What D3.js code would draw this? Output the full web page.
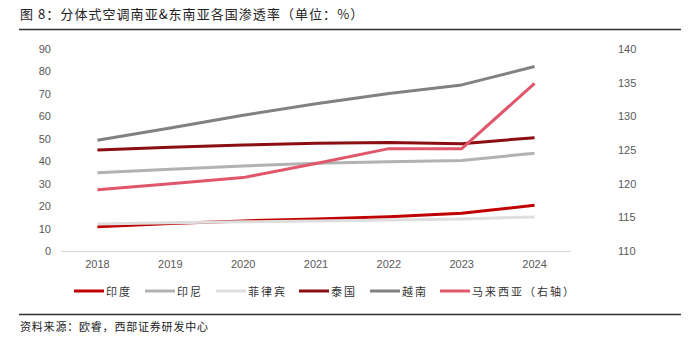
<!DOCTYPE html>
<html>
<head>
<meta charset="utf-8">
<script src="https://cdn.jsdelivr.net/npm/d3@7/dist/d3.min.js"></script>
<style>
  body { margin: 0; background: #fff; }
  svg { display: block; font-family: "Liberation Sans", Arial, sans-serif; }
  .cjk { font-family: "Noto Sans CJK SC", sans-serif; }
</style>
</head>
<body>
<svg id="chart" width="700" height="337"></svg>
<script>
// Data
var years = ['2018', '2019', '2020', '2021', '2022', '2023', '2024'];
var india = [10.8, 12.3, 13.4, 14.3, 15.3, 16.8, 20.4];
var indonesia = [34.9, 36.4, 37.9, 39.1, 39.8, 40.3, 43.6];
var philippines = [12.0, 12.6, 13.0, 13.4, 13.8, 14.3, 15.2];
var thailand = [45.0, 46.2, 47.2, 48.0, 48.3, 47.8, 50.5];
var vietnam = [49.3, 54.8, 60.5, 65.6, 70.2, 74.0, 82.2];
var malaysia = [119.1, 120.0, 120.9, 123.0, 125.2, 125.2, 134.9];   // right axis
var leftTicks = [0, 10, 20, 30, 40, 50, 60, 70, 80, 90];
var rightTicks = [110, 115, 120, 125, 130, 135, 140];

var series = [
    { name: '印度', values: india, color: '#c00000', right: false },
    { name: '印尼', values: indonesia, color: '#b2b2b2', right: false },
    { name: '菲律宾', values: philippines, color: '#dedede', right: false },
    { name: '泰国', values: thailand, color: '#8b0f12', right: false },
    { name: '越南', values: vietnam, color: '#818181', right: false },
    { name: '马来西亚（右轴）', values: malaysia, color: '#e0566a', right: true }
];

var svg = d3.select('#chart');
var plot = { left: 61, right: 571, top: 49, bottom: 251 };

var x = d3.scaleBand().domain(years).range([plot.left, plot.right]);
var yL = d3.scaleLinear().domain([0, 90]).range([plot.bottom, plot.top]);
var yR = d3.scaleLinear().domain([110, 140]).range([plot.bottom, plot.top]);

// Title
svg.append('text')
    .attr('class', 'cjk')
    .attr('x', 20).attr('y', 19)
    .attr('font-size', 13).attr('fill', '#222')
    .attr('letter-spacing', 1.05)
    .text('图 8：分体式空调南亚&东南亚各国渗透率（单位：%）');
svg.append('line')
    .attr('x1', 19).attr('x2', 681).attr('y1', 29.5).attr('y2', 29.5)
    .attr('stroke', '#333').attr('stroke-width', 1.5);

// Baseline
svg.append('line')
    .attr('x1', plot.left).attr('x2', plot.right)
    .attr('y1', plot.bottom + 0.5).attr('y2', plot.bottom + 0.5)
    .attr('stroke', '#d9d9d9').attr('stroke-width', 1);

// Left axis
var leftAxis = d3.axisLeft(yL).tickValues(leftTicks).tickSize(0).tickPadding(0);
var gl = svg.append('g').attr('transform', 'translate(51,0)').call(leftAxis);
gl.select('.domain').remove();
gl.selectAll('text').attr('font-size', 11).attr('fill', '#595959')
    .attr('font-family', '"Liberation Sans", Arial, sans-serif');

// Right axis
var rightAxis = d3.axisRight(yR).tickValues(rightTicks).tickSize(0).tickPadding(0);
var gr = svg.append('g').attr('transform', 'translate(618,0)').call(rightAxis);
gr.select('.domain').remove();
gr.selectAll('text').attr('font-size', 11).attr('fill', '#595959')
    .attr('font-family', '"Liberation Sans", Arial, sans-serif');

// Bottom axis
var bottomAxis = d3.axisBottom(x).tickSize(0).tickPadding(0);
var gb = svg.append('g').attr('transform', 'translate(0,' + (plot.bottom + 9) + ')').call(bottomAxis);
gb.select('.domain').remove();
gb.selectAll('text').attr('font-size', 11).attr('fill', '#595959')
    .attr('font-family', '"Liberation Sans", Arial, sans-serif');

// Lines
series.forEach(function (s) {
    var yS = s.right ? yR : yL;
    var line = d3.line()
        .x(function (d, i) { return x(years[i]) + x.bandwidth() / 2; })
        .y(function (d) { return yS(d); });
    svg.append('path')
        .datum(s.values)
        .attr('d', line)
        .attr('fill', 'none')
        .attr('stroke', s.color)
        .attr('stroke-width', 3)
        .attr('stroke-linejoin', 'round');
});

// Legend
var legendX = [74, 145, 216, 299, 370, 440];
var legend = svg.append('g');
series.forEach(function (s, i) {
    legend.append('line')
        .attr('x1', legendX[i]).attr('x2', legendX[i] + 30)
        .attr('y1', 291).attr('y2', 291)
        .attr('stroke', s.color).attr('stroke-width', 3);
    legend.append('text')
        .attr('class', 'cjk')
        .attr('x', legendX[i] + 32).attr('y', 295.5)
        .attr('font-size', 11).attr('fill', '#333')
        .attr('letter-spacing', 2)
        .text(s.name);
});

// Footer
svg.append('line')
    .attr('x1', 19).attr('x2', 681).attr('y1', 314.5).attr('y2', 314.5)
    .attr('stroke', '#333').attr('stroke-width', 1.5);
svg.append('text')
    .attr('class', 'cjk')
    .attr('x', 20).attr('y', 331)
    .attr('font-size', 11).attr('fill', '#222')
    .attr('letter-spacing', 0.8)
    .text('资料来源：欧睿，西部证券研发中心');
</script>
</body>
</html>
